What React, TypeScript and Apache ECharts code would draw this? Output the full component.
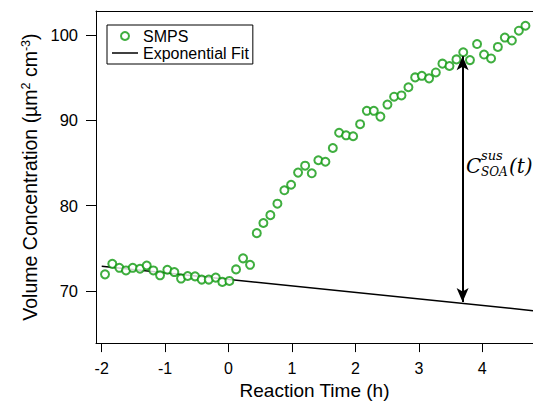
import React, { useEffect, useRef } from "react";
import * as echarts from "echarts";

const TIME = [
  -1.948, -1.833, -1.722, -1.617, -1.511, -1.396, -1.29, -1.186, -1.08, -0.965,
  -0.855, -0.749, -0.644, -0.528, -0.423, -0.312, -0.202, -0.098, 0.013, 0.118,
  0.229, 0.339, 0.445, 0.549, 0.659, 0.77, 0.88, 0.986, 1.096, 1.207,
  1.312, 1.416, 1.527, 1.644, 1.743, 1.853, 1.964, 2.074, 2.18, 2.29,
  2.394, 2.505, 2.61, 2.726, 2.836, 2.942, 3.047, 3.162, 3.268, 3.372,
  3.483, 3.593, 3.7, 3.806, 3.918, 4.028, 4.139, 4.246, 4.356, 4.467,
  4.577, 4.681,
];
const SMPS = [
  71.95, 73.18, 72.72, 72.41, 72.72, 72.61, 72.99, 72.41, 71.84, 72.49,
  72.22, 71.46, 71.76, 71.72, 71.34, 71.34, 71.57, 71.07, 71.18, 72.53,
  73.83, 73.07, 76.78, 77.97, 78.89, 80.23, 81.8, 82.45, 83.87, 84.68,
  83.79, 85.32, 85.14, 86.75, 88.54, 88.24, 88.13, 89.54, 91.11, 91.11,
  90.43, 91.84, 92.76, 92.91, 93.87, 95.02, 95.21, 94.91, 95.6, 96.63,
  96.36, 97.13, 97.97, 97.05, 98.93, 97.7, 97.24, 98.59, 99.69, 99.34,
  100.49, 101.07,
];
const FIT_TIME = [-2.0, 4.8];
const FIT_VALUE = [72.9, 67.7];
const X_TICKS = [-2, -1, 0, 1, 2, 3, 4];
const Y_TICKS = [70, 80, 90, 100];
const ARROW_TIME = 3.69;
const ARROW_FROM = 68.7;
const ARROW_TO = 97.5;

const GREEN = "#0f9a0f";
const FONT = "'Liberation Sans', Arial, Helvetica, sans-serif";
const MATH = "'DejaVu Serif', serif";

export default function App() {
  const ref = useRef<HTMLDivElement>(null);
  useEffect(() => {
    document.body.style.margin = "0";
    const chart = echarts.init(ref.current!, null, { renderer: "svg" });
    chart.setOption({
      animation: false,
      backgroundColor: "#fff",
      textStyle: { fontFamily: FONT, color: "#000" },
      grid: { left: 96, right: 0, top: 11, bottom: 56, containLabel: false },
      legend: {
        left: 107,
        top: 25,
        orient: "vertical",
        align: "left",
        borderColor: "#000",
        borderWidth: 1,
        padding: [3, 4, 3, 5],
        itemGap: 1,
        itemWidth: 26,
        itemHeight: 8,
        textStyle: { fontFamily: FONT, fontSize: 16, color: "#000" },
        data: [
          { name: "SMPS" },
          { name: "Exponential Fit", icon: "path://M0,0H26V1.5H0Z" },
        ],
      },
      xAxis: [
        {
          type: "value",
          min: -2.09,
          max: 4.8,
          position: "bottom",
          axisLine: { show: true, onZero: false, lineStyle: { color: "#000", width: 1 } },
          axisTick: { show: true, inside: false, length: 9, customValues: X_TICKS, lineStyle: { color: "#000" } },
          axisLabel: { customValues: X_TICKS, color: "#000", fontSize: 16, margin: 17, fontFamily: FONT },
          splitLine: { show: false },
          name: "Reaction Time (h)",
          nameLocation: "middle",
          nameGap: 34,
          nameTextStyle: { fontSize: 19, color: "#000", fontFamily: FONT },
        },
        {
          type: "value",
          min: -2.09,
          max: 4.8,
          position: "top",
          axisLine: { show: true, onZero: false, lineStyle: { color: "#000", width: 1 } },
          axisTick: { show: false },
          axisLabel: { show: false },
          splitLine: { show: false },
        },
      ],
      yAxis: {
        type: "value",
        min: 63.9,
        max: 102.8,
        axisLine: { show: true, onZero: false, lineStyle: { color: "#000", width: 1 } },
        axisTick: { show: true, inside: false, length: 10, customValues: Y_TICKS, lineStyle: { color: "#000" } },
        axisLabel: { customValues: Y_TICKS, color: "#000", fontSize: 16.5, margin: 18, fontFamily: FONT },
        splitLine: { show: false },
        name: "Volume Concentration (µm{sup|2} cm{sup|-3})",
        nameLocation: "middle",
        nameGap: 54,
        nameTextStyle: {
          fontSize: 19.5,
          color: "#000",
          fontFamily: FONT,
          rich: { sup: { fontSize: 12.5, verticalAlign: "top", fontFamily: FONT, color: "#000" } },
        },
      },
      series: [
        {
          name: "SMPS",
          type: "scatter",
          symbol: "emptyCircle",
          symbolSize: 8,
          itemStyle: { color: GREEN, borderColor: GREEN, borderWidth: 1.4 },
          data: TIME.map((t, i) => [t, SMPS[i]]),
          z: 3,
        },
        {
          name: "Exponential Fit",
          type: "line",
          symbol: "none",
          lineStyle: { color: "#000", width: 1.5 },
          itemStyle: { color: "#000" },
          data: FIT_TIME.map((t, i) => [t, FIT_VALUE[i]]),
          z: 2,
          markLine: {
            silent: true,
            symbol: ["arrow", "arrow"],
            symbolSize: [9, 14],
            label: { show: false },
            lineStyle: { color: "#000", width: 2, type: "solid" },
            data: [[{ coord: [ARROW_TIME, ARROW_FROM] }, { coord: [ARROW_TIME, ARROW_TO] }]],
          },
        },
      ],
      graphic: [
        { type: "text", left: 466, top: 156, style: { text: "C", font: `italic 20px ${MATH}`, fill: "#000" } },
        { type: "text", left: 481, top: 149, style: { text: "sus", font: `italic 13px ${MATH}`, fill: "#000" } },
        { type: "text", left: 481, top: 166, style: { text: "SOA", font: `italic 12px ${MATH}`, fill: "#000" } },
        { type: "text", left: 509, top: 156, style: { text: "(t)", font: `italic 20px ${MATH}`, fill: "#000" } },
      ],
    });
    return () => chart.dispose();
  }, []);
  return <div ref={ref} style={{ width: 533, height: 405 }} />;
}
